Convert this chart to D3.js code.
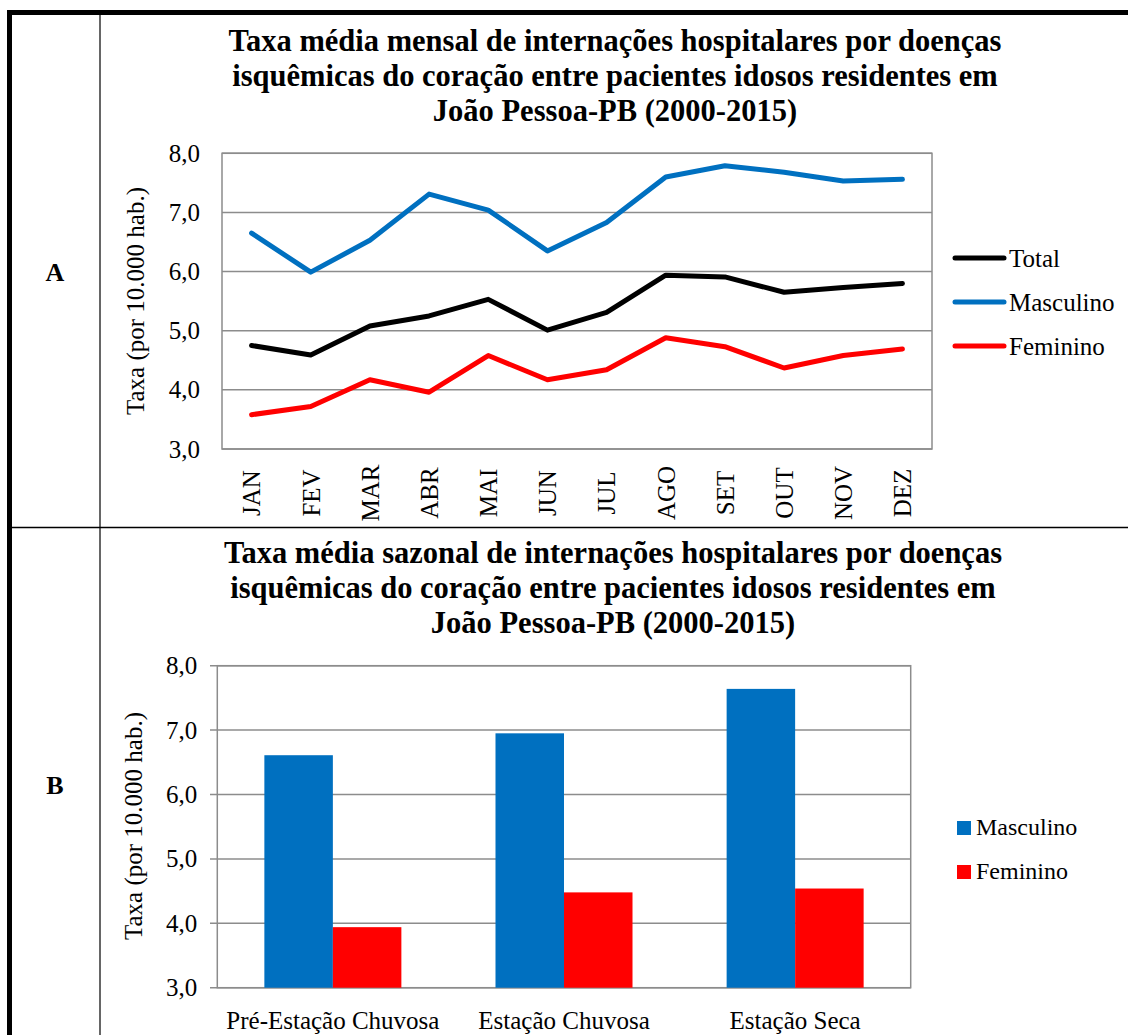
<!DOCTYPE html>
<html><head><meta charset="utf-8">
<script src="https://cdn.jsdelivr.net/npm/d3@7"></script>
<style>
html,body{margin:0;padding:0;background:#fff;}
svg text{font-family:"Liberation Serif","Times New Roman",serif;}
</style></head>
<body>
<svg id="c" width="1128" height="1035"></svg>
<script>
// ---- data ----
const months = ["JAN","FEV","MAR","ABR","MAI","JUN","JUL","AGO","SET","OUT","NOV","DEZ"];
const total     = [4.75,4.59,5.08,5.25,5.53,5.01,5.31,5.94,5.91,5.65,5.73,5.80];
const masculino = [6.65,5.99,6.53,7.31,7.04,6.35,6.83,7.60,7.79,7.68,7.53,7.56];
const feminino  = [3.58,3.72,4.17,3.96,4.58,4.17,4.34,4.88,4.73,4.37,4.58,4.69];
const seasons = ["Pré-Estação Chuvosa","Estação Chuvosa","Estação Seca"];
const seasonMasc = [6.61,6.95,7.64];
const seasonFem  = [3.94,4.48,4.54];
const yTicks = [3,4,5,6,7,8];
const titleLines = ["isquêmicas do coração entre pacientes idosos residentes em","João Pessoa-PB (2000-2015)"];
const titleA = ["Taxa média mensal de internações hospitalares por doenças"].concat(titleLines);
const titleB = ["Taxa média sazonal de internações hospitalares por doenças"].concat(titleLines);
const yLabel = "Taxa (por 10.000 hab.)";
const lineSeries = [
  {name:"Total", values: total, color:"#000000"},
  {name:"Masculino", values: masculino, color:"#0070C0"},
  {name:"Feminino", values: feminino, color:"#FF0000"}
];
const barSeries = [
  {name:"Masculino", values: seasonMasc, color:"#0070C0"},
  {name:"Feminino", values: seasonFem, color:"#FF0000"}
];

const svg = d3.select("#c");
svg.append("rect").attr("width",1128).attr("height",1035).attr("fill","#fff");
const fmt = d => d.toFixed(1).replace(".", ",");
const gridColor = "#8c8c8c";
const serif = "Liberation Serif, Times New Roman, serif";

// ---- table frame ----
svg.append("rect").attr("x",7).attr("y",10).attr("width",1121).attr("height",5).attr("fill","#000");
svg.append("rect").attr("x",7).attr("y",10).attr("width",5).attr("height",1025).attr("fill","#000");
svg.append("line").attr("x1",100).attr("x2",100).attr("y1",15).attr("y2",1035).attr("stroke","#333").attr("stroke-width",1.5);
svg.append("line").attr("x1",12).attr("x2",1128).attr("y1",527.5).attr("y2",527.5).attr("stroke","#000").attr("stroke-width",1.5);

svg.append("text").attr("x",55).attr("y",281).attr("text-anchor","middle")
  .attr("font-size",26).attr("font-weight","bold").text("A");
svg.append("text").attr("x",55).attr("y",794).attr("text-anchor","middle")
  .attr("font-size",26).attr("font-weight","bold").text("B");

function title(lines, cx, y0){
  lines.forEach((l,i)=>{
    svg.append("text").attr("x",cx).attr("y",y0+i*35).attr("text-anchor","middle")
      .attr("font-size",30.5).attr("font-weight","bold").text(l);
  });
}
title(titleA, 615, 51);
title(titleB, 613, 563);

// ---- Chart A ----
const xA = d3.scaleBand().domain(months).range([222,932]);
const yA = d3.scaleLinear().domain([3,8]).range([449,153.3]);
const gA = svg.append("g");
gA.selectAll("line.grid").data(yTicks).join("line")
  .attr("x1",222).attr("x2",932).attr("y1",d=>yA(d)).attr("y2",d=>yA(d))
  .attr("stroke",gridColor).attr("stroke-width",1.5);
gA.append("rect").attr("x",222).attr("y",yA(8)).attr("width",710).attr("height",yA(3)-yA(8))
  .attr("fill","none").attr("stroke",gridColor).attr("stroke-width",1.5);

const axA = gA.append("g").attr("transform","translate(222,0)")
  .call(d3.axisLeft(yA).tickValues(yTicks).tickSize(0).tickPadding(22).tickFormat(fmt));
axA.select(".domain").remove();
axA.selectAll("text").attr("font-size",25).attr("fill","#000").attr("font-family",serif);

const axXA = gA.append("g").attr("transform","translate(0,449)")
  .call(d3.axisBottom(xA).tickSize(0).tickPadding(0));
axXA.select(".domain").remove();
axXA.selectAll("text").attr("font-size",25).attr("fill","#000").attr("font-family",serif)
  .attr("text-anchor","middle").attr("y",0)
  .attr("transform","translate(0,44) rotate(-90)").attr("dy","0.35em");

const lineGen = d3.line().x((d,i)=>xA(months[i])+xA.bandwidth()/2).y(d=>yA(d));
gA.selectAll("path.series").data(lineSeries).join("path")
  .attr("d",d=>lineGen(d.values)).attr("fill","none").attr("stroke",d=>d.color)
  .attr("stroke-width",5).attr("stroke-linejoin","round").attr("stroke-linecap","round");

svg.append("text").attr("transform","translate(144,301) rotate(-90)").attr("text-anchor","middle")
  .attr("font-size",25).text(yLabel);

const legA = svg.append("g");
lineSeries.forEach((s,i)=>{
  const y = 258 + i*44;
  legA.append("line").attr("x1",955).attr("x2",1004).attr("y1",y).attr("y2",y)
    .attr("stroke",s.color).attr("stroke-width",5).attr("stroke-linecap","round");
  legA.append("text").attr("x",1009).attr("y",y+8.5).attr("font-size",25).text(s.name);
});

// ---- Chart B ----
const xB = d3.scaleBand().domain(seasons).range([217.3,910.7]);
const xB1 = d3.scaleBand().domain(barSeries.map(s=>s.name)).range([0,xB.bandwidth()]).paddingOuter(0.687);
const yB = d3.scaleLinear().domain([3,8]).range([987.7,665.7]);
const gB = svg.append("g");
gB.selectAll("line.grid").data(yTicks).join("line")
  .attr("x1",210).attr("x2",910.7).attr("y1",d=>yB(d)).attr("y2",d=>yB(d))
  .attr("stroke",gridColor).attr("stroke-width",1.5);
gB.append("rect").attr("x",217.3).attr("y",yB(8)).attr("width",910.7-217.3).attr("height",yB(3)-yB(8))
  .attr("fill","none").attr("stroke",gridColor).attr("stroke-width",1.5);

barSeries.forEach(s=>{
  gB.selectAll(null).data(s.values).join("rect")
    .attr("x",(d,i)=>xB(seasons[i])+xB1(s.name))
    .attr("width",xB1.bandwidth())
    .attr("y",d=>yB(d)).attr("height",d=>yB(3)-yB(d))
    .attr("fill",s.color);
});

const axB = gB.append("g").attr("transform","translate(217.3,0)")
  .call(d3.axisLeft(yB).tickValues(yTicks).tickSize(0).tickPadding(20).tickFormat(fmt));
axB.select(".domain").remove();
axB.selectAll("text").attr("font-size",25).attr("fill","#000").attr("font-family",serif);

const axXB = gB.append("g").attr("transform","translate(0,987.7)")
  .call(d3.axisBottom(xB).tickSize(0).tickPadding(24));
axXB.select(".domain").remove();
axXB.selectAll("text").attr("font-size",25).attr("fill","#000").attr("font-family",serif);

svg.append("text").attr("transform","translate(142,826) rotate(-90)").attr("text-anchor","middle")
  .attr("font-size",25).text(yLabel);

const legB = svg.append("g");
barSeries.forEach((s,i)=>{
  const y = 821 + i*44;
  legB.append("rect").attr("x",957).attr("y",y).attr("width",14).attr("height",14).attr("fill",s.color);
  legB.append("text").attr("x",976).attr("y",y+14).attr("font-size",24).text(s.name);
});
</script>
</body></html>
